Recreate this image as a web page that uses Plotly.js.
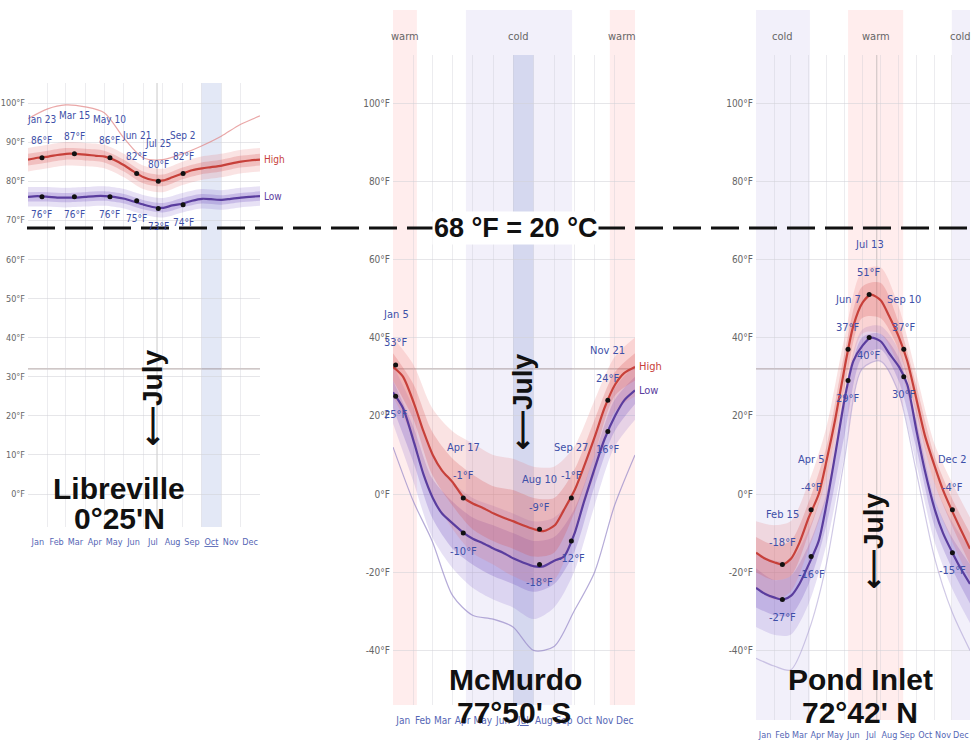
<!DOCTYPE html>
<html><head><meta charset="utf-8">
<script src="https://cdn.plot.ly/plotly-3.0.1.min.js"></script>
<style>html,body{margin:0;padding:0;background:#fff}#chart{width:971px;height:752px}</style>
</head><body><div id="chart"></div>
<script>
// ---------------- DATA ----------------
const monthNames = ['Jan','Feb','Mar','Apr','May','Jun','Jul','Aug','Sep','Oct','Nov','Dec'];
const monthStart = [0,31,59,90,120,151,181,212,243,273,304,334,365];
const monthMid = [15.5,45,74.5,105,135.5,166,196.5,227.5,258,288.5,319,349.5];
const lineDays = [0,15,32,46,60,74,90,107,121,135,152,166,182,196,213,227,244,258,274,288,305,319,335,349,365];
const bandDays = [0,31,59,90,120,151,181,212,243,273,304,334,365];
const tickF10 = [0,10,20,30,40,50,60,70,80,90,100];
const tickF20 = [-40,-20,0,20,40,60,80,100];

// Libreville
const libHigh = [85.5,86,86.3,86.7,87,87,86.8,86.5,86.3,85.5,84,82.5,81,80.3,80.2,81,82,82.8,83.3,83.6,84,84.5,85,85.3,85.5];
const libLow  = [76,76.2,76,75.8,75.8,75.8,76,76.2,76.2,76,75.5,74.8,74,73.4,73.2,73.8,74.3,75,75.5,75.4,75.2,75.5,75.8,76,76.2];
const libHigh90 = [88.5,89.3,90,89.8,89.3,87,84,83.2,85,86.3,87,88,88.5];
const libHigh75 = [87,87.8,88.5,88.3,87.8,85.5,82.5,81.7,83.5,84.8,85.5,86.5,87];
const libHigh25 = [84,84.8,85.5,85.3,84.8,82.5,79.5,78.7,80.5,81.8,82.5,83.5,84];
const libHigh10 = [82.5,83.3,84,83.8,83.3,81,78,77.2,79,80.3,81,82,82.5];
const libLow90 = [78.5,78.5,78.3,78.5,78.7,78,76.5,75.7,77,78,77.7,78.3,78.7];
const libLow75 = [77.2,77.2,77,77.2,77.4,76.7,75.2,74.4,75.7,76.7,76.4,77,77.4];
const libLow25 = [74.8,74.8,74.6,74.8,75,74.3,72.8,72,73.3,74.3,74,74.6,75];
const libLow10 = [73.5,73.5,73.3,73.5,73.7,73,71.5,70.7,72,73,72.7,73.3,73.7];
const libExtreme = [96,98.5,99.5,99,97.5,91,86,85.5,87,89,91.5,94.5,96.7];
const libKeyDays = [22,73,129,171,205,244];
const libKeyNames = ['Jan 23','Mar 15','May 10','Jun 21','Jul 25','Sep 2'];
const libKeyHigh = [86,87,86,82,80,82];
const libKeyLow = [76,76,76,75,73,74];

// McMurdo
const mcmHigh = [32.5,30,23,16,10,6,3,-1,-2.5,-3.5,-5,-6,-7,-8,-9,-9.5,-8,-4,1,7,15,22,28,31,32.5];
const mcmLow  = [26,22,13,5,-1,-5,-7.5,-10,-11.5,-12.5,-14,-15,-16.5,-17.5,-18.5,-18.5,-17,-16,-10,-2,7,14,20,24,26.5];
const mcmHigh90 = [40,33,22,16,13,10,9,7,7,12,24,35,40];
const mcmHigh75 = [36,28,16,9,5,2,1,-1,-1,6,19,31,36];
const mcmHigh25 = [29,19,5,-3,-9,-12,-14,-16,-15,-5,10,25,29];
const mcmHigh10 = [25,14,0,-9,-15,-18,-21,-23,-22,-10,5,21,25];
const mcmLow90 = [33,22,10,3,-1,-3,-5,-7,-6,0,14,27,33];
const mcmLow75 = [29,17,4,-2,-6,-8,-10,-12,-11,-4,10,24,30];
const mcmLow25 = [22,8,-6,-14,-18,-21,-23,-25,-23,-15,2,16,23];
const mcmLow10 = [18,3,-11,-19,-24,-27,-29,-32,-29,-20,-3,12,19];
const mcmExtreme = [12,-2,-12,-26,-31,-32,-34,-40,-39,-30,-20,-3,10];
const mcmKeyDays = [4,106,221,269,324];
const mcmKeyNames = ['Jan 5','Apr 17','Aug 10','Sep 27','Nov 21'];
const mcmKeyHigh = [33,-1,-9,-1,24];
const mcmKeyLow = [25,-10,-18,-12,16];

// Pond Inlet
const pndHigh = [-15,-16.5,-17.5,-18,-16.5,-12.5,-6,0,9,19,33,43,49,51,49.5,45.5,40,34,24,15,7,1,-4.5,-9,-14];
const pndLow  = [-24,-25.5,-26.5,-27,-26,-23,-18,-12,-2,10,25,34,38,40,39,36,32.5,28,16,6,-4,-10,-15,-19,-23];
const pndHigh90 = [-7,-8,-7,3,17,40,57,58,48,31,13,3,-6];
const pndHigh75 = [-11,-13,-12,-2,12,36,53,54,44,28,10,-1,-10];
const pndHigh25 = [-20,-22,-21,-10,4,27,45,45,37,21,3,-8,-18];
const pndHigh10 = [-24,-27,-25,-14,-1,22,41,41,33,17,-1,-12,-22];
const pndLow90 = [-15,-17,-17,-9,4,26,42,43,37,22,3,-7,-14];
const pndLow75 = [-19,-22,-21,-13,0,23,40,41,35,19,-1,-11,-18];
const pndLow25 = [-29,-31,-31,-23,-8,15,35,37,29,12,-8,-19,-28];
const pndLow10 = [-34,-36,-36,-28,-13,10,32,34,26,8,-12,-24,-33];
const pndExtreme = [-42,-44,-45,-35,-18,9,32,34,26,6,-16,-30,-40];
const pndKeyDays = [45,94,157,193,252,335];
const pndKeyNames = ['Feb 15','Apr 5','Jun 7','Jul 13','Sep 10','Dec 2'];
const pndKeyHigh = [-18,-4,37,51,37,-4];
const pndKeyLow = [-27,-16,29,40,30,-15];

// season bands (day ranges)
const mcmWarm = [[0,36],[327,365]];
const mcmCold = [[110,270]];
const pndCold = [[0,92],[334,365]];
const pndWarm = [[157,251]];

// ---------------- LAYOUT HELPERS ----------------
const W = 971, H = 752, ZERO_PX = 494, PX_PER_F = 3.91;
const yRange = (t,b) => [(ZERO_PX-b)/PX_PER_F, (ZERO_PX-t)/PX_PER_F];
const yDom = (t,b) => [1-b/H, 1-t/H];
const xDom = (l,r) => [l/W, r/W];
const py = p => 1 - p/H;
const NARROW = 'Liberation Sans Narrow, DejaVu Sans Condensed, Arial Narrow, sans-serif';
const BOLD = 'Liberation Sans, Arial, sans-serif';
const C_HIGH = '#c7403a', C_LOW = '#5a3d9e', C_LABEL = '#3d4fa8';

const traces = [], shapes = [], annotations = [];
const layout = {
  width: W, height: H, margin: {l:0,r:0,t:0,b:0},
  paper_bgcolor: '#fff', plot_bgcolor: 'rgba(0,0,0,0)', showlegend: false,
  shapes, annotations
};

function band(xa, ya, lo, hi, color) {
  traces.push({x:bandDays, y:lo, xaxis:xa, yaxis:ya, type:'scatter', mode:'lines',
    line:{width:0, shape:'spline', smoothing:0.8}, hoverinfo:'skip'});
  traces.push({x:bandDays, y:hi, xaxis:xa, yaxis:ya, type:'scatter', mode:'lines',
    line:{width:0, shape:'spline', smoothing:0.8}, fill:'tonexty', fillcolor:color, hoverinfo:'skip'});
}

function panel(p) {
  const n = p.n, xa = 'x'+(n>1?n:''), ya = 'y'+(n>1?n:'');
  const xk = 'xaxis'+(n>1?n:''), yk = 'yaxis'+(n>1?n:'');
  layout[xk] = {domain:xDom(p.x0,p.x1), range:[0,365], anchor:ya, showgrid:false, zeroline:false,
    tickvals:monthMid, ticktext:monthNames.map(m => m===p.underline ? '<span style="text-decoration:underline">'+m+'</span>' : m),
    ticks:'', tickangle:0, ticklabelstandoff: p.xstand, tickfont:{family:NARROW, size:p.mfs, color:'#5566b5'},
    minor:{tickvals:monthStart, showgrid:true, gridcolor:'rgba(200,200,210,0.35)', gridwidth:1, ticks:''},
    fixedrange:true};
  layout[yk] = {domain:yDom(p.top,p.bot), range:yRange(p.top,p.bot), anchor:xa, zeroline:false,
    tickvals:p.yticks, ticktext:p.yticks.map(v => v+'°F'), ticks:'', ticklabelstandoff:2,
    tickfont:{family:NARROW, size:p.yfs, color:'#666'}, gridcolor:'rgba(210,210,215,0.55)', gridwidth:1,
    showline:false, fixedrange:true};

  const top = p.bandTop || p.top;
  (p.warm||[]).forEach(r => shapes.push({type:'rect', xref:xa, yref:'paper', x0:r[0], x1:r[1], y0:py(p.bot), y1:py(top),
    fillcolor:'rgba(255,190,190,0.28)', line:{width:0}, layer:'below'}));
  (p.cold||[]).forEach(r => shapes.push({type:'rect', xref:xa, yref:'paper', x0:r[0], x1:r[1], y0:py(p.bot), y1:py(top),
    fillcolor:'rgba(218,212,240,0.35)', line:{width:0}, layer:'below'}));
  const seasonFont = {family:NARROW, size:11, color:'#666'};
  (p.warm||[]).forEach(r => annotations.push({xref:xa, yref:'paper', x:(r[0]+r[1])/2, y:py(37), text:'warm',
    showarrow:false, xanchor:'center', yanchor:'middle', font:seasonFont}));
  (p.cold||[]).forEach(r => annotations.push({xref:xa, yref:'paper', x:(r[0]+r[1])/2, y:py(37), text:'cold',
    showarrow:false, xanchor:'center', yanchor:'middle', font:seasonFont}));
  if (p.hilite) shapes.push({type:'rect', xref:xa, yref:'paper', x0:p.hilite[0], x1:p.hilite[1], y0:py(p.bot), y1:py(p.top),
    fillcolor:p.hiliteColor, line:{width:0}, layer:'below'});
  if (p.vline) shapes.push({type:'line', xref:xa, yref:'paper', x0:p.vline, x1:p.vline, y0:py(p.bot), y1:py(p.top),
    line:{color:'rgba(150,150,150,0.5)', width:1}, layer:'below'});
  shapes.push({type:'line', xref:xa, yref:ya, x0:0, x1:365, y0:32, y1:32, line:{color:'rgba(140,120,120,0.55)', width:1.3}, layer:'below'});

  band(xa, ya, p.l10, p.l90, 'rgba(135,105,205,0.2)');
  band(xa, ya, p.l25, p.l75, 'rgba(110,80,190,0.25)');
  band(xa, ya, p.h10, p.h90, 'rgba(228,115,115,0.2)');
  band(xa, ya, p.h25, p.h75, 'rgba(215,85,85,0.25)');
  traces.push({x:bandDays, y:p.ext, xaxis:xa, yaxis:ya, type:'scatter', mode:'lines',
    line:{color:p.extColor, width:1.2, shape:'spline', smoothing:0.8}, hoverinfo:'skip'});
  traces.push({x:lineDays, y:p.high, xaxis:xa, yaxis:ya, type:'scatter', mode:'lines',
    line:{color:C_HIGH, width:2.2, shape:'spline', smoothing:0.7}, hoverinfo:'skip'});
  traces.push({x:lineDays, y:p.low, xaxis:xa, yaxis:ya, type:'scatter', mode:'lines',
    line:{color:C_LOW, width:2.2, shape:'spline', smoothing:0.7}, hoverinfo:'skip'});
  traces.push({x:p.keyDays.concat(p.keyDays), y:p.keyHigh.concat(p.keyLow), xaxis:xa, yaxis:ya, type:'scatter', mode:'markers',
    marker:{color:'#111', size:5}, hoverinfo:'skip'});

  const lf = {family:NARROW, size:p.lfs, color:C_LABEL};
  p.keyDays.forEach((d,i) => {
    annotations.push({xref:xa, yref:ya, x:d, y:p.keyHigh[i], text:p.keyNames[i], showarrow:false, xanchor:'center', yanchor:'middle', yshift:p.dOff, font:lf});
    annotations.push({xref:xa, yref:ya, x:d, y:p.keyHigh[i], text:p.keyHigh[i]+'°F', showarrow:false, xanchor:'center', yanchor:'middle', yshift:p.vOff, font:lf});
    annotations.push({xref:xa, yref:ya, x:d, y:p.keyLow[i], text:p.keyLow[i]+'°F', showarrow:false, xanchor:'center', yanchor:'middle', yshift:-18, font:lf});
  });
  if (p.endLabels) {
    annotations.push({xref:xa, yref:ya, x:365, y:p.high[p.high.length-1], text:'High', showarrow:false, xanchor:'left', yanchor:'middle', xshift:2,
      font:{family:NARROW, size:p.lfs, color:C_HIGH}});
    annotations.push({xref:xa, yref:ya, x:365, y:p.low[p.low.length-1], text:'Low', showarrow:false, xanchor:'left', yanchor:'middle', xshift:2,
      font:{family:NARROW, size:p.lfs, color:C_LOW}});
  }
}

panel({n:1, x0:28, x1:260, top:83, bot:527, yticks:tickF10, yfs:9, mfs:9, xstand:8, lfs:10, dOff:38, vOff:17,
  underline:'Oct', hilite:[273,304], hiliteColor:'rgba(200,210,238,0.5)', vline:203,
  high:libHigh, low:libLow, h10:libHigh10, h25:libHigh25, h75:libHigh75, h90:libHigh90,
  l10:libLow10, l25:libLow25, l75:libLow75, l90:libLow90, ext:libExtreme, extColor:'rgba(225,130,130,0.7)',
  keyDays:libKeyDays, keyNames:libKeyNames, keyHigh:libKeyHigh, keyLow:libKeyLow, endLabels:true});
panel({n:2, x0:393, x1:635, top:55, bot:705, bandTop:10, yticks:tickF20, yfs:10, mfs:10, xstand:8, lfs:11, dOff:50, vOff:22,
  underline:'Jul', hilite:[181,212], hiliteColor:'rgba(165,175,220,0.38)', warm:mcmWarm, cold:mcmCold,
  high:mcmHigh, low:mcmLow, h10:mcmHigh10, h25:mcmHigh25, h75:mcmHigh75, h90:mcmHigh90,
  l10:mcmLow10, l25:mcmLow25, l75:mcmLow75, l90:mcmLow90, ext:mcmExtreme, extColor:'rgba(150,135,200,0.7)',
  keyDays:mcmKeyDays, keyNames:mcmKeyNames, keyHigh:mcmKeyHigh, keyLow:mcmKeyLow, endLabels:true});
panel({n:3, x0:756, x1:970, top:55, bot:720, bandTop:10, yticks:tickF20, yfs:10, mfs:9, xstand:8, lfs:11, dOff:50, vOff:22,
  warm:pndWarm, cold:pndCold, vline:206,
  high:pndHigh, low:pndLow, h10:pndHigh10, h25:pndHigh25, h75:pndHigh75, h90:pndHigh90,
  l10:pndLow10, l25:pndLow25, l75:pndLow75, l90:pndLow90, ext:pndExtreme, extColor:'rgba(150,135,200,0.45)',
  keyDays:pndKeyDays, keyNames:pndKeyNames, keyHigh:pndKeyHigh, keyLow:pndKeyLow, endLabels:false});

// 68°F reference line
const refF = 68;
const refY = py(ZERO_PX - refF*PX_PER_F);
shapes.push({type:'line', xref:'paper', yref:'paper', x0:27/W, x1:1, y0:refY, y1:refY,
  line:{color:'#111', width:3, dash:'28px,10px'}, layer:'above'});
annotations.push({xref:'paper', yref:'paper', x:515/W, y:refY, text:'68 °F = 20 °C', showarrow:false,
  xanchor:'center', yanchor:'middle', bgcolor:'#fff', borderpad:1, font:{family:BOLD, size:27, color:'#111', weight:700}});

// Big titles
const big = (x,y,t) => annotations.push({xref:'paper', yref:'paper', x:x/W, y:py(y), text:t, showarrow:false,
  xanchor:'center', yanchor:'middle', font:{family:BOLD, size:30, color:'#111', weight:700}});
big(119, 488, 'Libreville');
big(119, 518, "0°25'N");
big(515, 679, 'McMurdo');
big(514, 712, "77°50' S");
big(860, 679, 'Pond Inlet');
big(860, 712, "72°42' N");

// July arrows
const july = (x,y) => annotations.push({xref:'paper', yref:'paper', x:x/W, y:py(y), text:'⟵July', textangle:-90,
  showarrow:false, xanchor:'center', yanchor:'middle', font:{family:BOLD, size:28, color:'#111', weight:700}});
july(152, 398);
july(523, 402);
july(873, 541);

Plotly.newPlot('chart', traces, layout, {staticPlot:true});
</script></body></html>
